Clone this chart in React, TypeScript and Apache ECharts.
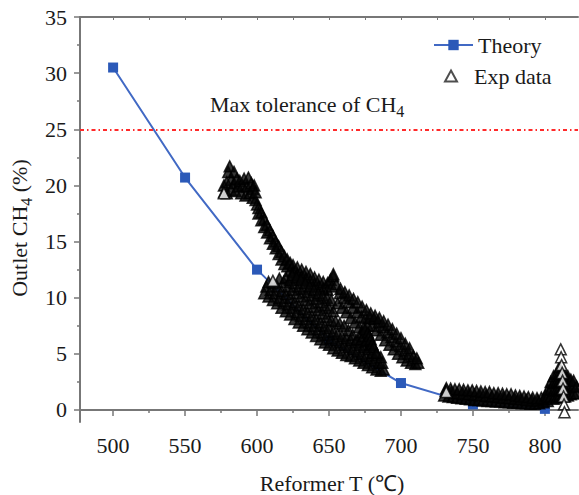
import React, { useEffect, useRef } from 'react';
import * as echarts from 'echarts';

const FONT = 'Liberation Serif';

// Theory curve
const theoryT = [500, 550, 600, 650, 700, 750, 800];
const theoryCH4 = [30.5, 20.7, 12.5, 6.2, 2.4, 0.5, 0.1];
const toleranceCH4 = 25;

// Axis ticks / labels
const xMajorTicks = [500, 550, 600, 650, 700, 750, 800];
const xMinorTicks = [525, 575, 625, 675, 725, 775];
const xTopTicks = [500, 525, 550, 575, 600, 625, 650, 675, 700, 725, 750, 775, 800];
const yMajorTicks = [0, 5, 10, 15, 20, 25, 30, 35];
const yMinorTicks = [2.5, 7.5, 12.5, 17.5, 22.5, 27.5, 32.5];

const expCluster = [
  [577, 19.4], [577, 20.0], [579, 19.3], [579, 20.3], [580, 21.2], [581, 21.7], [582, 20.5], [582, 19.6],
  [584, 21.2], [584, 20.2], [585, 19.5], [586, 20.6], [587, 19.9], [588, 20.4], [589, 19.3], [590, 20.0],
  [591, 20.6], [592, 19.1], [593, 19.9], [594, 20.7], [595, 19.3], [596, 20.2], [597, 18.9], [597, 19.7],
  [598, 20.0], [599, 18.7], [599, 19.4], [600, 18.3],
];
const expDescent = [
  [601, 18.0], [601, 17.5], [603, 17.6], [603, 16.9], [605, 17.0], [605, 16.3], [607, 16.5], [607, 15.8],
  [609, 16.0], [609, 15.3], [611, 15.5], [611, 14.8], [613, 15.0], [613, 14.4], [615, 14.6], [615, 13.9],
  [617, 14.1], [617, 13.4], [619, 13.7], [619, 13.0], [621, 13.4], [621, 12.8], [623, 13.1], [623, 12.4],
  [625, 12.9], [625, 12.3], [628, 12.7], [628, 12.1], [631, 12.5], [631, 11.9], [634, 12.3], [634, 11.7],
  [637, 12.1], [637, 11.5], [640, 11.8], [640, 11.2], [643, 11.6], [643, 11.0], [646, 11.4], [646, 10.8],
  [649, 11.3], [649, 10.7], [651, 11.6], [653, 11.9], [652, 11.0],
];
const expLower0 = [
  [605, 10.4], [608, 10.1], [611, 9.8], [614, 9.5], [617, 9.1], [620, 8.8], [623, 8.5], [626, 8.1],
  [629, 7.8], [632, 7.5], [635, 7.2], [638, 6.9], [641, 6.6], [644, 6.3], [647, 6.0], [650, 5.8],
  [653, 5.5], [656, 5.3], [659, 5.1], [662, 4.9], [665, 4.8], [668, 4.6], [671, 4.4], [674, 4.2],
  [677, 4.0], [680, 3.8], [683, 3.6], [686, 3.5], [688, 3.6],
];
const expLower1 = [
  [606.5, 11.0], [609.5, 10.7], [612.5, 10.4], [615.5, 10.0], [618.5, 9.7], [621.5, 9.4], [624.5, 9.1],
  [627.5, 8.7], [630.5, 8.4], [633.5, 8.1], [636.5, 7.8], [639.5, 7.5], [642.5, 7.2], [645.5, 6.9],
  [648.5, 6.7], [651.5, 6.4], [654.5, 6.2], [657.5, 6.0], [660.5, 5.8], [663.5, 5.6], [666.5, 5.4],
  [669.5, 5.2], [672.5, 5.0], [675.5, 4.8], [678.5, 4.6], [681.5, 4.4], [684.5, 4.2], [687, 4.2],
];
const expLower2 = [
  [608, 11.4], [611, 11.3], [614, 11.0], [617, 10.6], [620, 10.3], [623, 10.0], [626, 9.6], [629, 9.3],
  [632, 9.0], [635, 8.7], [638, 8.4], [641, 8.1], [644, 7.8], [647, 7.5], [650, 7.3], [653, 7.0],
  [656, 6.8], [659, 6.6], [662, 6.4], [665, 6.2], [668, 6.0], [671, 5.8], [674, 5.6], [677, 5.4],
  [680, 5.1], [683, 4.9], [686, 4.7],
];
const expLower3 = [
  [615.5, 11.7], [618.5, 11.4], [621.5, 11.0], [624.5, 10.7], [627.5, 10.4], [630.5, 10.1], [633.5, 9.8],
  [636.5, 9.5], [639.5, 9.2], [642.5, 8.9], [645.5, 8.6], [648.5, 8.3], [651.5, 8.0], [654.5, 7.9],
  [657.5, 7.7], [660.5, 7.5], [663.5, 7.1], [666.5, 6.7], [669.5, 6.3], [672.5, 6.3], [675.5, 6.1],
  [678.5, 5.8],
];
const expLower4 = [
  [620, 11.8], [623, 11.6], [626, 11.3], [629, 11.0], [632, 10.8], [635, 10.5], [638, 10.2], [641, 9.9],
  [644, 9.6], [647, 9.3], [650, 9.1], [653, 8.8],
];
const expLower5 = [
  [624.5, 12.0], [627.5, 11.8], [630.5, 11.6], [633.5, 11.3], [636.5, 11.0], [639.5, 10.7], [642.5, 10.4],
  [645.5, 10.2], [648.5, 10.0], [651.5, 9.8],
];
const expUpper0 = [
  [656, 9.5], [659, 9.1], [662, 8.7], [665, 8.2], [668, 7.8], [671, 7.4], [674, 7.3], [677, 7.5],
  [680, 7.5], [683, 7.1], [686, 6.7], [689, 6.2], [692, 5.8], [695, 5.4], [698, 5.0], [701, 4.7],
  [704, 4.4], [707, 4.2], [710, 4.1], [712, 4.2],
];
const expUpper1 = [
  [657.5, 10.4], [660.5, 10.0], [663.5, 9.6], [666.5, 9.1], [669.5, 8.7], [672.5, 8.3], [675.5, 8.2],
  [678.5, 8.2], [681.5, 8.1], [684.5, 7.8], [687.5, 7.4], [690.5, 6.9], [693.5, 6.5], [696.5, 6.1],
  [699.5, 5.7], [702.5, 5.3], [705.5, 5.0], [708.5, 4.8], [711, 4.6],
];
const expUpper2 = [
  [653, 12.1], [655, 11.2], [658, 10.8], [661, 10.5], [664, 10.2], [667, 9.9], [670, 9.6], [673, 9.2],
  [676, 8.9], [679, 8.6], [682, 8.4], [685, 8.2], [688, 7.9], [691, 7.6], [694, 7.2], [697, 6.8],
  [700, 6.4], [703, 5.9], [706, 5.5],
];
const expBridge = [
  [673, 6.9], [674, 6.6], [675, 7.2], [676, 6.2], [677, 6.9], [678, 6.6], [679, 6.3], [680, 5.9],
  [681, 5.6], [683, 5.1],
];
const expLow0 = [
  [730, 1.3], [733, 1.2], [736, 1.15], [739, 1.1], [742, 1.05], [745, 1.0], [748, 0.95], [751, 0.9],
  [754, 0.9], [757, 0.85], [760, 0.8], [763, 0.8], [766, 0.75], [769, 0.75], [772, 0.7], [775, 0.7],
  [778, 0.65], [781, 0.65], [784, 0.6], [787, 0.6], [790, 0.55], [793, 0.55], [796, 0.6], [799, 0.7],
  [802, 0.8],
];
const expLowMid = [
  [731, 1.7], [735, 1.6], [739, 1.5], [743, 1.45], [747, 1.4], [751, 1.35], [755, 1.3], [759, 1.25],
  [763, 1.2], [767, 1.15], [771, 1.1], [775, 1.05], [779, 1.0], [783, 0.95], [787, 0.9], [791, 0.85],
  [795, 0.85], [799, 0.95],
];
const expLow1 = [
  [731.5, 1.95], [734.5, 1.9], [737.5, 1.85], [740.5, 1.85], [743.5, 1.8], [746.5, 1.75], [749.5, 1.75],
  [752.5, 1.7], [755.5, 1.65], [758.5, 1.6], [761.5, 1.6], [764.5, 1.5], [767.5, 1.5], [770.5, 1.45],
  [773.5, 1.4], [776.5, 1.4], [779.5, 1.3], [782.5, 1.25], [785.5, 1.2], [788.5, 1.15], [791.5, 1.1],
  [794.5, 1.05], [797.5, 1.1], [800.5, 1.3],
];
const expEnd = [
  [802, 1.2], [802, 1.8], [804, 1.2], [804, 1.9], [804, 2.5], [806, 1.0], [806, 1.7], [806, 2.4], [806, 3.0],
  [808, 1.1], [808, 1.8], [808, 2.5], [808, 3.2], [810, 1.2], [810, 1.9], [810, 2.6], [810, 3.3], [810, 3.8],
  [812, 1.3], [812, 2.0], [812, 2.7], [812, 3.4], [814, 1.2], [814, 1.9], [814, 2.6], [814, 3.2],
  [816, 1.3], [816, 2.0], [816, 2.7], [816, 3.0], [818, 1.4], [818, 2.1], [818, 2.7], [820, 1.5], [820, 2.2],
  [820, 2.6], [822, 1.5], [822, 2.1],
];
const expHollow = [
  [577, 19.3], [611, 11.5], [731.5, 1.6],
  [811, 5.4], [811.3, 4.7], [811.6, 4.0], [812, 3.3], [812.3, 2.6], [812.6, 1.9], [813, 1.2],
  [813.3, 0.5], [813.6, -0.2],
];

const expFilled = [
  ...expCluster, ...expDescent,
  ...expLower0, ...expLower1, ...expLower2, ...expLower3, ...expLower4, ...expLower5,
  ...expUpper0, ...expUpper1, ...expUpper2, ...expBridge,
  ...expLow0, ...expLowMid, ...expLow1, ...expEnd,
];

const AXIS_COLOR = '#777';
const TEXT_COLOR = '#1a1a1a';

export default function App() {
  const ref = useRef<HTMLDivElement>(null);
  useEffect(() => {
    if (!ref.current) return;
    const chart = echarts.init(ref.current, null, { renderer: 'svg' });
    const richSub = {
      a: { fontSize: 22, fontFamily: FONT, lineHeight: 30, fill: TEXT_COLOR },
      s: { fontSize: 16, fontFamily: FONT, lineHeight: 10, verticalAlign: 'bottom', fill: TEXT_COLOR },
    };
    const tickRich = { t: { fontSize: 22, fontFamily: FONT, color: TEXT_COLOR } };
    const tickFormatter = (v: number) => `{t|${v}}`;
    const legendText = { fontSize: 22, fontFamily: FONT, color: TEXT_COLOR, lineHeight: 24 };
    const option: any = {
      animation: false,
      backgroundColor: '#fff',
      textStyle: { fontFamily: FONT },
      grid: { left: 80, top: 17, right: 1, bottom: 73, outerBoundsMode: 'none', containLabel: false },
      legend: [
        {
          orient: 'vertical',
          left: 433,
          top: 33,
          padding: 0,
          itemWidth: 39,
          itemHeight: 13,
          textStyle: legendText,
          data: [{ name: 'Theory' }],
        },
        {
          orient: 'vertical',
          left: 444,
          top: 64,
          padding: 0,
          itemWidth: 12,
          itemHeight: 11,
          textStyle: { ...legendText, padding: [0, 0, 0, 12] },
          data: [{ name: 'Exp data', icon: 'triangle', itemStyle: { color: '#fff', borderColor: '#222', borderWidth: 2 } }],
        },
      ],
      xAxis: [
        {
          type: 'value', min: 477, max: 823, position: 'bottom',
          axisLine: { show: true, lineStyle: { color: AXIS_COLOR, width: 2 } },
          axisTick: { show: true, inside: false, length: 6, customValues: xMajorTicks, lineStyle: { color: AXIS_COLOR, width: 1.5 } },
          axisLabel: { customValues: xMajorTicks, margin: 12, fontSize: 22, fontFamily: FONT, color: TEXT_COLOR, formatter: tickFormatter, rich: tickRich },
          splitLine: { show: false },
        },
        {
          type: 'value', min: 477, max: 823, position: 'bottom',
          axisLine: { show: false },
          axisTick: { show: true, inside: false, length: 3, customValues: xMinorTicks, lineStyle: { color: AXIS_COLOR, width: 1.5 } },
          axisLabel: { show: false },
          splitLine: { show: false },
        },
        {
          type: 'value', min: 477, max: 823, position: 'top',
          axisLine: { show: true, lineStyle: { color: AXIS_COLOR, width: 2 } },
          axisTick: { show: true, inside: true, length: 3, customValues: xTopTicks, lineStyle: { color: AXIS_COLOR, width: 1 } },
          axisLabel: { show: false },
          splitLine: { show: false },
        },
      ],
      yAxis: [
        {
          type: 'value', min: -1.07, max: 35, position: 'left',
          axisLine: { show: true, lineStyle: { color: AXIS_COLOR, width: 2 } },
          axisTick: { show: true, inside: false, length: 6, customValues: yMajorTicks, lineStyle: { color: AXIS_COLOR, width: 1.5 } },
          axisLabel: { customValues: yMajorTicks, margin: 13, fontSize: 22, fontFamily: FONT, color: TEXT_COLOR, formatter: tickFormatter, rich: tickRich },
          splitLine: { show: false },
        },
        {
          type: 'value', min: -1.07, max: 35, position: 'left',
          axisLine: { show: false },
          axisTick: { show: true, inside: false, length: 3, customValues: yMinorTicks, lineStyle: { color: AXIS_COLOR, width: 1.5 } },
          axisLabel: { show: false },
          splitLine: { show: false },
        },
      ],
      series: [
        {
          name: 'Theory',
          type: 'line',
          z: 2,
          data: theoryT.map((t, i) => [t, theoryCH4[i]]),
          symbol: 'rect',
          symbolSize: 10,
          lineStyle: { color: '#4169c4', width: 2 },
          itemStyle: { color: '#2b59b8' },
          markLine: {
            silent: true,
            symbol: 'none',
            label: { show: false },
            lineStyle: { color: '#ff2a2a', width: 2, type: [4, 3, 1.5, 3] },
            data: [{ yAxis: toleranceCH4 }],
          },
        },
        {
          name: 'Exp data',
          type: 'scatter',
          z: 3,
          symbol: 'triangle',
          symbolSize: 11,
          itemStyle: { color: '#050505', borderColor: '#000', borderWidth: 1.5 },
          data: [
            ...expFilled,
            ...expHollow.map((p) => ({ value: p, itemStyle: { color: '#fff', borderColor: '#000', borderWidth: 1.5 } })),
          ],
        },
      ],
      graphic: [
        {
          type: 'text',
          x: 19, y: 228,
          rotation: Math.PI / 2,
          style: {
            text: '{a|Outlet CH}{s|4}{a| (%)}',
            rich: richSub,
            align: 'center',
            verticalAlign: 'middle',
          },
        },
        {
          type: 'text',
          x: 210, y: 104,
          style: {
            text: '{a|Max tolerance of CH}{s|4}',
            rich: richSub,
            align: 'left',
            verticalAlign: 'middle',
          },
        },
        {
          type: 'text',
          x: 332, y: 483,
          style: {
            text: 'Reformer T (℃)',
            fontSize: 22,
            fontFamily: FONT,
            fill: TEXT_COLOR,
            align: 'center',
            verticalAlign: 'middle',
          },
        },
      ],
    };
    chart.setOption(option);
    return () => chart.dispose();
  }, []);
  return <div ref={ref} style={{ position: 'absolute', left: 0, top: 0, width: 579, height: 495 }} />;
}
